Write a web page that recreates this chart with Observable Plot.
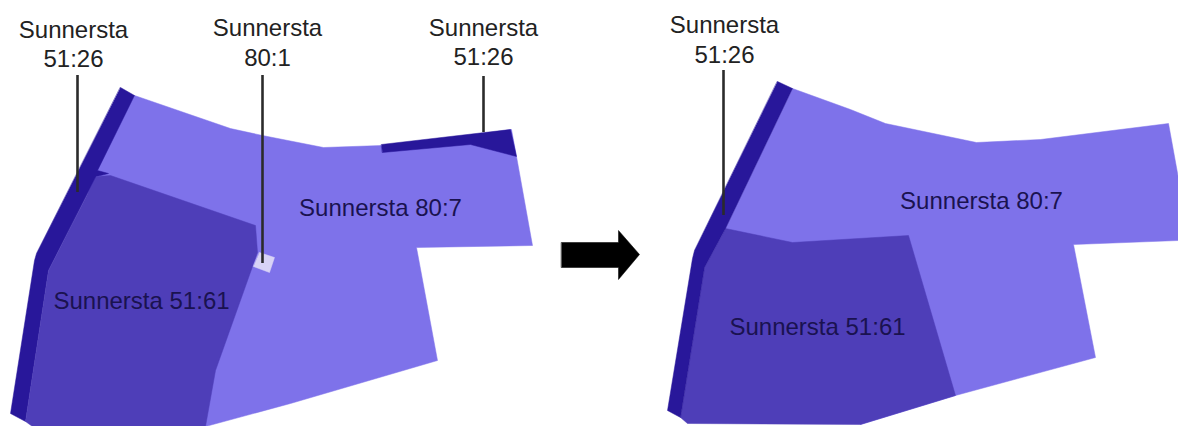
<!DOCTYPE html>
<html>
<head>
<meta charset="utf-8">
<style>
html,body{margin:0;padding:0;background:#fff;overflow:hidden}
svg{display:block}
</style>
<script src="https://cdn.jsdelivr.net/npm/d3@7"></script>
<script src="https://cdn.jsdelivr.net/npm/@observablehq/plot@0.6"></script>
</head>
<body>
<div id="chart"></div>
<script>
const LIGHT = "#7e72ea", MID = "#4e3eb8", DARK = "#28179a", PALE = "#d8d3f6", BLACK = "#000000";
const LEADER = "#2b2b2b", INK_OUT = "#222222", INK_IN = "#1a1250";

// Before: parcels
const before80_7 = [[134,95],[230,128],[262,135],[323,147],[381,145],[470,135],[511,129],[516,156],[532,245],[416,247],[437,360],[290,403],[205,426],[60,426],[90,175]];
const before51_26a = [[120,87],[134,95],[97,170],[108,173],[96,176],[48,270],[25,421],[10,413],[34,260],[36,253]];
const before51_26b = [[381,144],[510,129],[516,156],[470,144],[382,152]];
const before51_61 = [[96,176],[110,175],[255,225],[257,252],[215,370],[205,426],[32,426],[25,421],[48,270]];
const before80_1 = [[259,252],[274,257],[269,272],[253,266]];

// After: parcels
const after80_7 = [[792,88],[850,109],[885,123],[976,142],[1040,139],[1168,123],[1178,178],[1178,240],[1073,244],[1095,357],[955,395],[860,424],[800,300],[725,228]];
const after51_26 = [[777,81],[792,88],[725,228],[704,267],[680,417],[667,410],[692,258],[694,250]];
const after51_61 = [[725,228],[792,242],[908,235],[955,395],[860,424],[687,423],[680,417],[704,267]];

const arrow = [[561,242],[618,242],[618,230],[639,254],[618,279],[618,267],[561,267]];

// Leader lines: x, y1, y2
const leaderX = [77,262,483,723];
const leaderY1 = [75,75,76,70];
const leaderY2 = [192,263,132,215];

// Labels
const labelText = ["Sunnersta","51:26","Sunnersta","80:1","Sunnersta","51:26","Sunnersta","51:26"];
const labelX = [73,73,267,267,483,483,724,724];
const labelY = [30,59,28,58,28,57,25,55];
const innerText = ["Sunnersta 80:7","Sunnersta 51:61","Sunnersta 80:7","Sunnersta 51:61"];
const innerX = [380,141,981,817];
const innerY = [208,301,201,327];

const poly = (pts, fill) => Plot.line(pts, {x: d => d[0], y: d => d[1], fill, stroke: fill, strokeWidth: 0.5, strokeLinejoin: "miter", curve: "linear-closed"});
const idx = a => a.map((_, i) => i);

const chart = Plot.plot({
  width: 1178, height: 426,
  margin: 0,
  x: {domain: [0,1178], range: [0,1178], axis: null},
  y: {domain: [0,426], range: [0,426], axis: null},
  style: {background: "#fff"},
  marks: [
    poly(before80_7, LIGHT),
    poly(before51_26a, DARK),
    poly(before51_26b, DARK),
    poly(before51_61, MID),
    poly(before80_1, PALE),
    poly(after80_7, LIGHT),
    poly(after51_61, MID),
    poly(after51_26, DARK),
    poly(arrow, BLACK),
    Plot.ruleX(idx(leaderX), {x: i => leaderX[i], y1: i => leaderY1[i], y2: i => leaderY2[i], stroke: LEADER, strokeWidth: 2.6}),
    Plot.text(idx(labelText), {x: i => labelX[i], y: i => labelY[i], text: i => labelText[i], fontSize: 24, fontFamily: "Liberation Sans", fill: INK_OUT}),
    Plot.text(idx(innerText), {x: i => innerX[i], y: i => innerY[i], text: i => innerText[i], fontSize: 24, fontFamily: "Liberation Sans", fill: INK_IN})
  ]
});
document.getElementById("chart").append(chart);
</script>
</body>
</html>
